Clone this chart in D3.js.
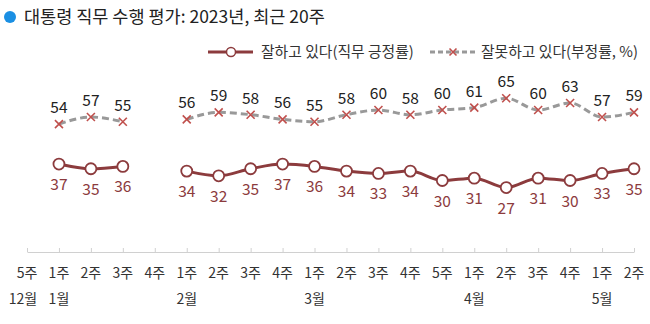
<!DOCTYPE html>
<html><head><meta charset="utf-8">
<script src="https://cdn.jsdelivr.net/npm/d3@7"></script>
<style>
body{margin:0;background:#fff;}
text{font-family:"Noto Sans CJK KR","Noto Sans",sans-serif;}
</style></head>
<body><svg id="c" width="650" height="324"></svg>
<script>
const weeks = ["5주","1주","2주","3주","4주","1주","2주","3주","4주","1주","2주","3주","4주","5주","1주","2주","3주","4주","1주","2주"];
const months = ["12월","1월","","","","2월","","","","3월","","","","","4월","","","","5월",""];
const positive = [null,37,35,36,null,34,32,35,37,36,34,33,34,30,31,27,31,30,33,35];
const negative = [null,54,57,55,null,56,59,58,56,55,58,60,58,60,61,65,60,63,57,59];
const title = "대통령 직무 수행 평가: 2023년, 최근 20주";
const legendLabels = ["잘하고 있다(직무 긍정률)","잘못하고 있다(부정률, %)"];

const svg = d3.select("#c");
const idx = d3.range(weeks.length);
const x = d3.scalePoint().domain(idx).range([27, 634]);
const y = d3.scaleLinear().domain([0, 100]).range([251, 16]);

const posColor = "#8c3b3d", negColor = "#999999", xColor = "#c0504d";

// title
svg.append("circle").attr("cx", 10).attr("cy", 17).attr("r", 6).attr("fill", "#1a8fe3");
svg.append("text").attr("x", 24).attr("y", 23).attr("font-size", 17.5).attr("fill", "#222").text(title);

// legend
const lg = svg.append("g");
lg.append("line").attr("x1", 208).attr("x2", 253).attr("y1", 52).attr("y2", 52).attr("stroke", posColor).attr("stroke-width", 3);
lg.append("circle").attr("cx", 231).attr("cy", 52).attr("r", 4.5).attr("fill", "#fff").attr("stroke", posColor).attr("stroke-width", 1.5);
lg.append("text").attr("x", 261).attr("y", 57).attr("font-size", 14.8).attr("fill", "#333").text(legendLabels[0]);
lg.append("line").attr("x1", 430).attr("x2", 476).attr("y1", 52).attr("y2", 52).attr("stroke", negColor).attr("stroke-width", 3).attr("stroke-dasharray", "5,3");
const lx = 453, ly = 52, s = 3.5;
lg.append("path").attr("d", `M${lx-s},${ly-s}L${lx+s},${ly+s}M${lx-s},${ly+s}L${lx+s},${ly-s}`).attr("stroke", xColor).attr("stroke-width", 1.6);
lg.append("text").attr("x", 481).attr("y", 57).attr("font-size", 14.8).attr("fill", "#333").text(legendLabels[1]);

// axis
const axisY = 252;
const ax = svg.append("g").attr("transform", `translate(0,${axisY})`)
  .call(d3.axisBottom(x).tickSize(-4).tickSizeOuter(0).tickFormat(() => ""));
ax.select(".domain").attr("stroke", "#d0d0d0");
ax.selectAll(".tick line").attr("stroke", "#d0d0d0");
svg.append("g").selectAll("text").data(idx).join("text")
  .attr("x", i => x(i)).attr("y", 278).attr("text-anchor", "middle")
  .attr("font-size", 14).attr("fill", "#333").text(i => weeks[i]);
svg.append("g").selectAll("text").data(idx.filter(i => months[i])).join("text")
  .attr("x", i => x(i) - (i === 0 ? 4 : 0)).attr("y", 304).attr("text-anchor", "middle")
  .attr("font-size", 14).attr("fill", "#333").text(i => months[i]);

// lines
const line = (arr) => d3.line().defined(i => arr[i] != null).x(i => x(i)).y(i => y(arr[i])).curve(d3.curveMonotoneX);
svg.append("path").datum(idx).attr("d", line(negative)).attr("fill", "none")
  .attr("stroke", negColor).attr("stroke-width", 3).attr("stroke-dasharray", "7,4");
svg.append("path").datum(idx).attr("d", line(positive)).attr("fill", "none")
  .attr("stroke", posColor).attr("stroke-width", 3);

const negIdx = idx.filter(i => negative[i] != null);
const posIdx = idx.filter(i => positive[i] != null);
svg.append("g").selectAll("path").data(negIdx).join("path")
  .attr("d", i => { const cx = x(i), cy = y(negative[i]), r = 4; return `M${cx-r},${cy-r}L${cx+r},${cy+r}M${cx-r},${cy+r}L${cx+r},${cy-r}`; })
  .attr("stroke", xColor).attr("stroke-width", 1.6).attr("fill", "none");
svg.append("g").selectAll("circle").data(posIdx).join("circle")
  .attr("cx", i => x(i)).attr("cy", i => y(positive[i])).attr("r", 5.5)
  .attr("fill", "#fff").attr("stroke", posColor).attr("stroke-width", 1.8);

svg.append("g").selectAll("text").data(negIdx).join("text")
  .attr("x", i => x(i)).attr("y", i => y(negative[i]) - 11).attr("text-anchor", "middle")
  .attr("font-size", 15.5).attr("fill", "#222").text(i => negative[i]);
svg.append("g").selectAll("text").data(posIdx).join("text")
  .attr("x", i => x(i)).attr("y", i => y(positive[i]) + 26).attr("text-anchor", "middle")
  .attr("font-size", 15.5).attr("fill", "#8c3b3d").text(i => positive[i]);
</script></body></html>
